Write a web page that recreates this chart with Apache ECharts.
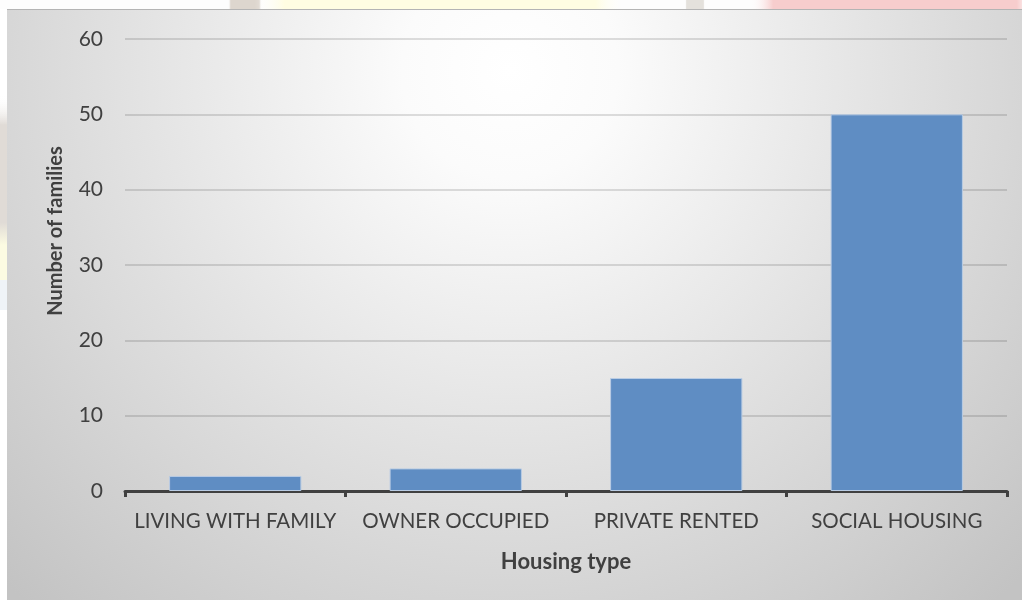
<!DOCTYPE html>
<html>
<head>
<meta charset="utf-8">
<style>
  html, body { margin: 0; padding: 0; background: #ffffff; }
  #chart { width: 1022px; height: 600px; }
</style>
<script src="https://cdn.jsdelivr.net/npm/echarts@6/dist/echarts.min.js"></script>
</head>
<body>
<div id="chart"></div>
<script>
// Housing type of families
const categories = ['LIVING WITH FAMILY', 'OWNER OCCUPIED', 'PRIVATE RENTED', 'SOCIAL HOUSING'];
const families = [2, 3, 15, 50];
const yTicks = { min: 0, max: 60, interval: 10 };

const FONT = 'Lato, "Open Sans", sans-serif';
const TEXT = '#404040';

const chart = echarts.init(document.getElementById('chart'), null, { renderer: 'canvas' });

// Horizontal soft band helper for the slide backdrop
function band(x0, x1, color) {
  return {
    type: 'rect',
    shape: { x: x0, y: 0, width: x1 - x0, height: 9 },
    style: {
      fill: new echarts.graphic.LinearGradient(0, 0, 1, 0, [
        { offset: 0, color: 'rgba(255,255,255,0)' },
        { offset: 0.08, color: color },
        { offset: 0.92, color: color },
        { offset: 1, color: 'rgba(255,255,255,0)' }
      ])
    }
  };
}

// Slide backdrop peeking round the chart panel, then the panel itself
const backdrop = [
  { type: 'rect', shape: { x: 0, y: 0, width: 1022, height: 9 }, style: { fill: '#fdfdfd' } },
  band(228, 262, '#ddd6ce'),
  band(255, 625, '#fffde2'),
  band(685, 705, '#e4e1dc'),
  band(750, 1040, '#f7cdcd'),
  {
    type: 'rect', shape: { x: 0, y: 95, width: 7, height: 150 },
    style: {
      fill: new echarts.graphic.LinearGradient(0, 0, 0, 1, [
        { offset: 0, color: 'rgba(255,255,255,0)' },
        { offset: 0.2, color: '#e0dbd6' },
        { offset: 0.85, color: '#e0dbd6' },
        { offset: 1, color: '#fcfbe2' }
      ])
    }
  },
  { type: 'rect', shape: { x: 0, y: 245, width: 7, height: 35 }, style: { fill: '#fcfbe2' } },
  { type: 'rect', shape: { x: 0, y: 280, width: 7, height: 30 }, style: { fill: '#eff3f7' } },
  {
    type: 'rect',
    shape: { x: 7, y: 9, width: 1015, height: 591 },
    style: {
      fill: new echarts.graphic.RadialGradient(510, 70, 720, [
        { offset: 0, color: '#ffffff' },
        { offset: 0.15, color: '#fbfbfb' },
        { offset: 1, color: '#c3c3c3' }
      ], true)
    }
  },
  { type: 'rect', shape: { x: 7, y: 9, width: 1015, height: 1 }, style: { fill: '#b4b4b4' } }
].map(el => Object.assign(el, { z: -10, silent: true }));

chart.setOption({
  animation: false,
  graphic: { elements: backdrop },
  grid: { left: 125, right: 15, top: 39, bottom: 109, containLabel: false },
  xAxis: {
    type: 'category',
    data: categories,
    name: 'Housing type',
    nameLocation: 'middle',
    nameGap: 60,
    nameTextStyle: { fontFamily: FONT, fontSize: 22, fontWeight: 'bold', color: TEXT },
    axisLine: { show: true, lineStyle: { color: '#404040', width: 3 } },
    axisTick: { show: true, length: 6, lineStyle: { color: '#404040', width: 3 } },
    axisLabel: { fontFamily: FONT, fontSize: 20.5, color: TEXT, margin: 20, interval: 0 },
    splitLine: { show: false }
  },
  yAxis: {
    type: 'value',
    min: yTicks.min,
    max: yTicks.max,
    interval: yTicks.interval,
    name: 'Number of families',
    nameLocation: 'middle',
    nameGap: 59,
    nameRotate: 90,
    nameTextStyle: { fontFamily: FONT, fontSize: 20, fontWeight: 'bold', color: TEXT, padding: [0, 0, 0, 68] },
    axisLine: { show: false },
    axisTick: { show: false },
    axisLabel: { fontFamily: FONT, fontSize: 21, color: TEXT, margin: 22 },
    splitLine: { show: true, lineStyle: { color: 'rgba(0,0,0,0.17)', width: 1.5 } }
  },
  series: [{
    type: 'bar',
    data: families,
    barCategoryGap: '40%',
    itemStyle: { color: '#5f8dc3', borderColor: '#b9cce4', borderWidth: 1 }
  }]
});
</script>
</body>
</html>
